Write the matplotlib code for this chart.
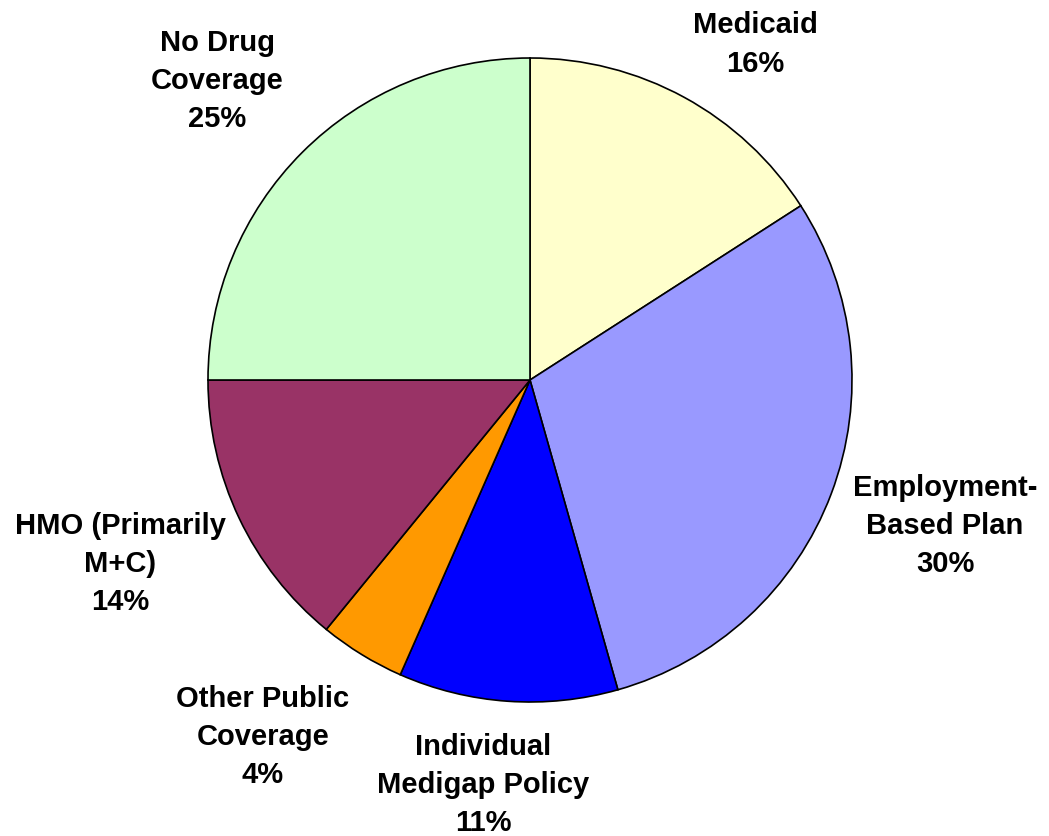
import matplotlib.pyplot as plt

labels = ['Medicaid', 'Employment-\nBased Plan', 'Individual\nMedigap Policy',
          'Other Public\nCoverage', 'HMO (Primarily\nM+C)', 'No Drug\nCoverage']
# slice sizes as read from the wedge edges; labels show the rounded values
shares = [15.9, 29.7, 11.0, 4.3, 14.1, 25.0]
pct_labels = ['16%', '30%', '11%', '4%', '14%', '25%']
colors = ['#FFFFCC', '#9999FF', '#0000FF', '#FF9900', '#993366', '#CCFFCC']

# label positions in data units (pie radius = 1)
label_pos = [(0.70, 1.045), (1.289, -0.450), (-0.146, -1.255),
             (-0.829, -1.106), (-1.273, -0.568), (-0.972, 0.932)]

plt.rcParams['font.family'] = ['Liberation Sans', 'DejaVu Sans']

fig = plt.figure(figsize=(10.49, 8.37), dpi=100)
ax = fig.add_axes([0, 0, 1, 1])

ax.pie(shares, colors=colors, startangle=90, counterclock=False, radius=1,
       wedgeprops=dict(edgecolor='black', linewidth=1.2))

for lab, pct, (x, y) in zip(labels, pct_labels, label_pos):
    ax.text(x, y, lab + '\n' + pct, ha='center', va='center',
            fontsize=21, fontweight='bold', linespacing=1.47)

# pixel-proportional limits: center at (530, 381) px, radius 322 px
ax.set_xlim(-530 / 322, (1049 - 530) / 322)
ax.set_ylim(-(837 - 381) / 322, 381 / 322)
ax.set_aspect('auto')
ax.axis('off')

fig.savefig('out.png', dpi=100)
